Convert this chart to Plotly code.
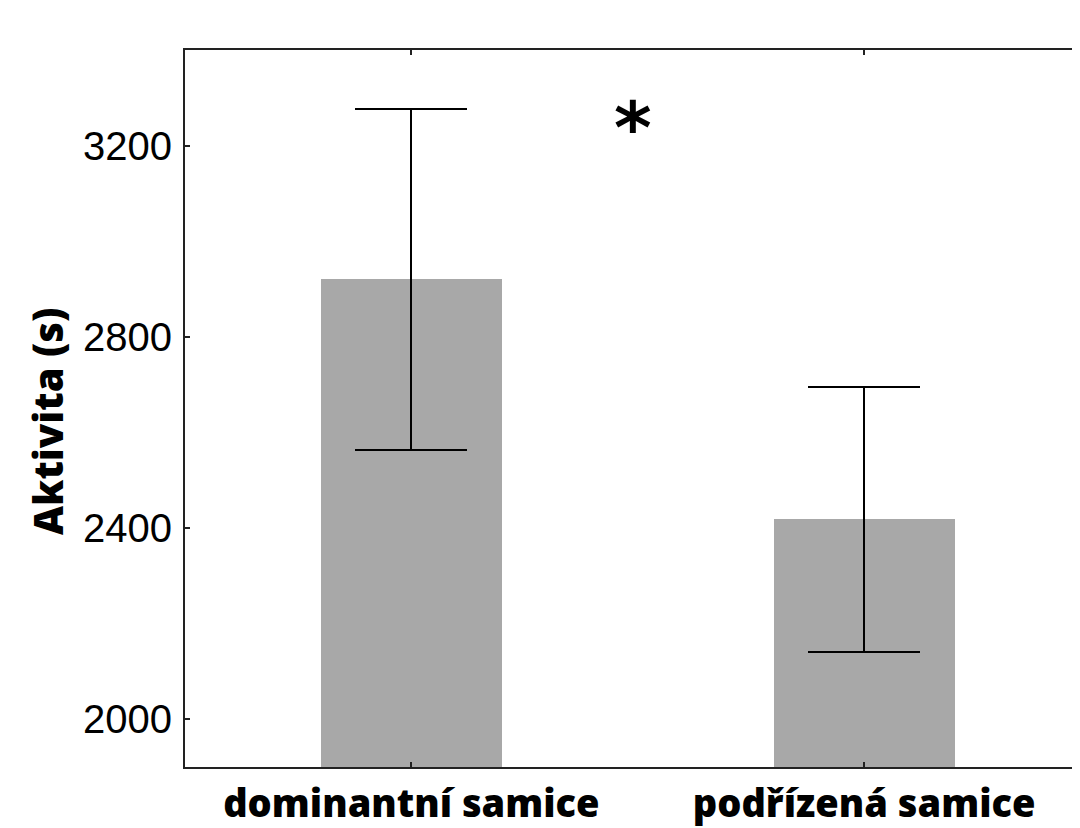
import plotly.graph_objects as go

categories = ["dominantní samice", "podřízená samice"]
means = [2920, 2418]
err_plus = [357, 276]
err_minus = [356, 277]
y_ticks = [2000, 2400, 2800, 3200]
y_title = "Aktivita (s)"
sig_mark = "*"

# page has an 8px body margin, so the figure is 1072x820 to fill a 1080x828 window
W, H = 1072, 820
L, T = 177, 42
B = H - 759

fig = go.Figure()
fig.add_trace(go.Bar(
    x=[0, 1], y=means, width=0.4,
    marker=dict(color="#a8a8a8", line=dict(width=0)),
    error_y=dict(type="data", symmetric=False, array=err_plus, arrayminus=err_minus,
                 color="#000000", thickness=2, width=56),
))

fig.update_layout(
    width=W, height=H,
    margin=dict(l=L, r=0, t=T, b=B, autoexpand=False),
    plot_bgcolor="white", paper_bgcolor="white",
    showlegend=False,
    bargap=0,
)
fig.update_xaxes(
    range=[-0.5, 1.4768], tickmode="array", tickvals=[0, 1], ticktext=categories,
    showline=True, linecolor="#222", linewidth=2, mirror="ticks",
    ticks="inside", ticklen=5, tickwidth=1.5, tickcolor="#222",
    tickfont=dict(family="Open Sans", size=38, color="#000", weight=800),
    showgrid=False, zeroline=False, automargin=False, ticklabelstandoff=2,
)
fig.update_yaxes(
    range=[1900, 3400], tickmode="array", tickvals=y_ticks,
    showline=True, linecolor="#222", linewidth=2, mirror=False,
    ticks="inside", ticklen=5, tickwidth=1.5, tickcolor="#222",
    tickfont=dict(family="Liberation Sans", size=40, color="#000"),
    showgrid=False, zeroline=False, automargin=False, ticklabelstandoff=3,
)
fig.add_annotation(
    text=y_title, xref="paper", yref="paper", x=-0.1531, y=0.4826,
    textangle=-90, showarrow=False, xanchor="center", yanchor="middle",
    font=dict(family="Open Sans", size=40, color="#000", weight=800),
)
fig.add_annotation(
    text=sig_mark, xref="x", yref="y", x=0.49, y=3236,
    showarrow=False, xanchor="center", yanchor="middle",
    font=dict(family="DejaVu Sans", size=72, color="#000", weight="bold"),
)
fig.write_html("out.html")
